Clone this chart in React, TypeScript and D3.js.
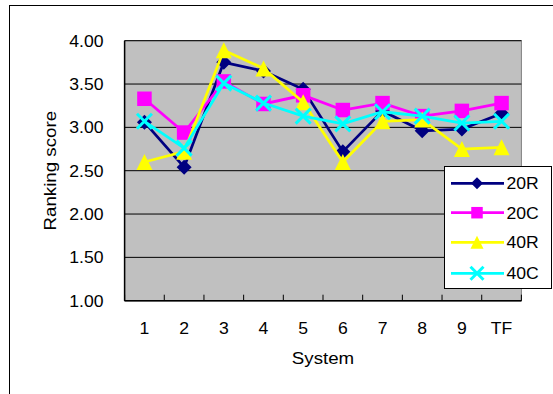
import React from "react";
import * as d3 from "d3";

const categories = ["1", "2", "3", "4", "5", "6", "7", "8", "9", "TF"];
const s20R = [3.06, 2.54, 3.75, 3.65, 3.44, 2.72, 3.19, 2.96, 2.98, 3.16];
const s20C = [3.33, 2.94, 3.53, 3.27, 3.37, 3.2, 3.28, 3.13, 3.19, 3.28];
const s40R = [2.6, 2.72, 3.89, 3.68, 3.29, 2.6, 3.07, 3.09, 2.75, 2.77];
const s40C = [3.07, 2.76, 3.51, 3.28, 3.13, 3.04, 3.18, 3.13, 3.05, 3.07];
const yTicks = [1.0, 1.5, 2.0, 2.5, 3.0, 3.5, 4.0];
const seriesNames = ["20R", "20C", "40R", "40C"];
const seriesColors = ["#000080", "#FF00FF", "#FFFF00", "#00FFFF"];
const seriesShapes = ["diamond", "square", "triangle", "x"];
const seriesData = [s20R, s20C, s40R, s40C];

const W = 553;
const H = 394;
const plotL = 124.6;
const plotR = 521.4;
const plotT = 40.7;
const plotB = 300.7;
const FONT = "'Liberation Sans', Arial, sans-serif";
const SX = 1.1;

function Marker({ shape, x, y, color, s }: { shape: string; x: number; y: number; color: string; s: number }) {
  if (shape === "diamond") {
    const h = s / 2;
    return <path d={`M${x},${y - h}L${x + h},${y}L${x},${y + h}L${x - h},${y}Z`} fill={color} />;
  }
  if (shape === "square") {
    const h = s / 2;
    return <rect x={x - h} y={y - h} width={s} height={s} fill={color} />;
  }
  if (shape === "triangle") {
    const h = s / 2;
    return <path d={`M${x},${y - h}L${x + h},${y + h}L${x - h},${y + h}Z`} fill={color} />;
  }
  const h = s / 2;
  return (
    <path
      d={`M${x - h},${y - h}L${x + h},${y + h}M${x - h},${y + h}L${x + h},${y - h}`}
      stroke={color}
      strokeWidth={3}
      fill="none"
    />
  );
}

function T({ x, y, anchor, size, children, rotate }: any) {
  const tr = rotate
    ? `translate(${x},${y}) rotate(-90) scale(${SX},1)`
    : `translate(${x},${y}) scale(${SX},1)`;
  return (
    <text transform={tr} textAnchor={anchor} fontFamily={FONT} fontSize={size} fill="#000">
      {children}
    </text>
  );
}

export default function App() {
  const x = d3.scaleBand<string>().domain(categories).range([plotL, plotR]).padding(0);
  const y = d3.scaleLinear().domain([1, 4]).range([plotB, plotT]);
  const bw = x.bandwidth();
  const cx = (c: string) => (x(c) as number) + bw / 2;
  const line = d3
    .line<number>()
    .x((_, i) => cx(categories[i]))
    .y((d) => y(d));

  const plotSizes = [15, 14.5, 16, 15];
  const legSizes = [12, 11.5, 13, 13];
  const legY = [183.3, 212.7, 242.3, 273.3];

  return (
    <svg
      width={W}
      height={H}
      style={{ position: "absolute", left: 0, top: 0, background: "#fff" }}
    >
      <rect x={9.5} y={5.5} width={600} height={420} fill="#fff" stroke="#000" strokeWidth={1} />
      <rect x={plotL} y={plotT} width={plotR - plotL} height={plotB - plotT} fill="#C0C0C0" stroke="#808080" strokeWidth={1} />
      {yTicks.map((t) => (
        <line key={"g" + t} x1={plotL} x2={plotR} y1={y(t)} y2={y(t)} stroke="#000" strokeWidth={1} />
      ))}
      <line x1={plotL} x2={plotL} y1={plotT} y2={plotB} stroke="#000" strokeWidth={1.5} />
      <line x1={plotL} x2={plotR} y1={plotB} y2={plotB} stroke="#000" strokeWidth={1.5} />
      {categories.concat(["__end"]).map((c, i) => {
        const xx = plotL + i * bw;
        return <line key={"t" + i} x1={xx} x2={xx} y1={plotB} y2={plotB - 6} stroke="#000" strokeWidth={1} />;
      })}
      {yTicks.map((t) => (
        <T key={"yl" + t} x={103.5} y={y(t) + 6} anchor="end" size={16}>
          {t.toFixed(2)}
        </T>
      ))}
      {categories.map((c) => (
        <T key={"xl" + c} x={cx(c)} y={334} anchor="middle" size={16}>
          {c}
        </T>
      ))}
      <T x={(plotL + plotR) / 2} y={364} anchor="middle" size={17}>
        System
      </T>
      <T x={56} y={(plotT + plotB) / 2} anchor="middle" size={17} rotate>
        Ranking score
      </T>
      {seriesData.map((data, si) => (
        <g key={"s" + si}>
          <path d={line(data) || ""} fill="none" stroke={seriesColors[si]} strokeWidth={2.75} />
          {data.map((v, i) => (
            <Marker
              key={i}
              shape={seriesShapes[si]}
              x={cx(categories[i])}
              y={y(v)}
              color={seriesColors[si]}
              s={plotSizes[si]}
            />
          ))}
        </g>
      ))}
      <rect x={444.5} y={166.5} width={107} height={122} fill="#fff" stroke="#000" strokeWidth={1} />
      {seriesNames.map((n, i) => (
        <g key={"l" + n}>
          <line x1={451} x2={504} y1={legY[i]} y2={legY[i]} stroke={seriesColors[i]} strokeWidth={2.75} />
          <Marker shape={seriesShapes[i]} x={477} y={legY[i]} color={seriesColors[i]} s={legSizes[i]} />
          <T x={506.5} y={legY[i] + 6} anchor="start" size={16}>
            {n}
          </T>
        </g>
      ))}
    </svg>
  );
}
